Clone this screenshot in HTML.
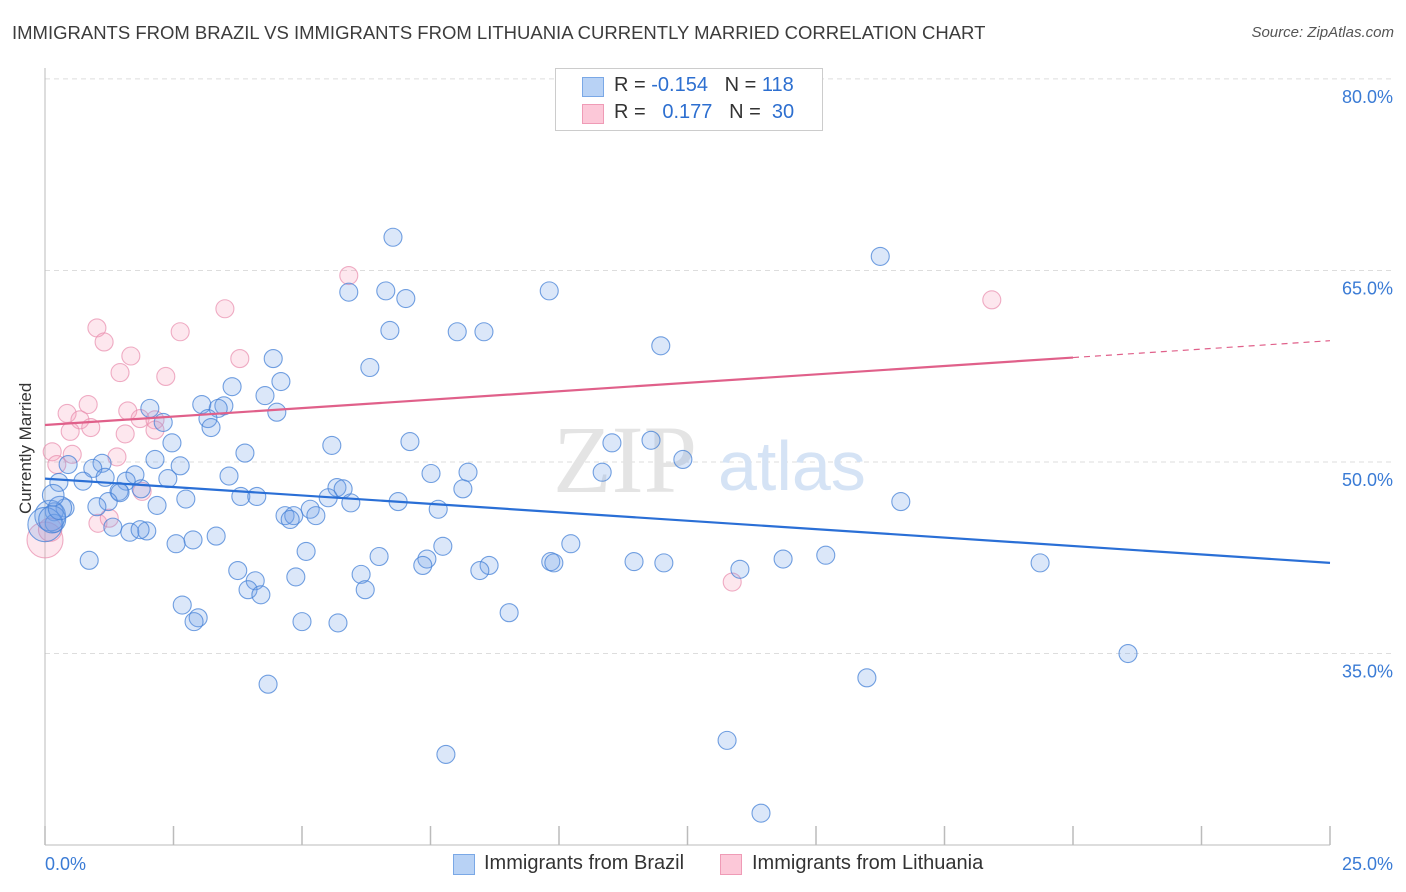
<!DOCTYPE html>
<html><head><meta charset="utf-8"><style>
body{margin:0;background:#fff;font-family:"Liberation Sans",sans-serif;}
#c{position:relative;width:1406px;height:892px;overflow:hidden;}
.t{position:absolute;white-space:nowrap;}
</style></head><body>
<div id="c">
<div class="t" style="left:12px;top:22px;font-size:18.5px;color:#3c3c3c;">IMMIGRANTS FROM BRAZIL VS IMMIGRANTS FROM LITHUANIA CURRENTLY MARRIED CORRELATION CHART</div>
<div class="t" style="right:12px;top:24px;font-size:15px;color:#555;font-style:italic;">Source: ZipAtlas.com</div>
<div class="t" style="left:-34px;top:444px;font-size:17px;color:#333;transform:rotate(-90deg);width:120px;text-align:center;">Currently Married</div>
<svg id="s" width="1406" height="892" style="position:absolute;left:0;top:0"></svg>
<div class="t" style="left:555px;top:68px;width:266px;height:61px;border:1px solid #ccc;background:#fff;font-size:20px;color:#333;">
 <div style="position:absolute;left:26px;top:8px;width:20px;height:18px;background:#b8d2f5;border:1px solid #7aa8e6;"></div>
 <div class="t" style="left:58px;top:5px;">R = <span style="color:#2d6fd0">-0.154</span>&nbsp;&nbsp;&nbsp;N = <span style="color:#2d6fd0">118</span></div>
 <div style="position:absolute;left:26px;top:35px;width:20px;height:18px;background:#fcc8d8;border:1px solid #ef9bb6;"></div>
 <div class="t" style="left:58px;top:32px;">R = &nbsp;&nbsp;<span style="color:#2d6fd0">0.177</span>&nbsp;&nbsp;&nbsp;N = &nbsp;<span style="color:#2d6fd0">30</span></div>
</div>
<div style="position:absolute;left:453px;top:854px;width:20px;height:19px;background:#b8d2f5;border:1px solid #7aa8e6;"></div>
<div class="t" style="left:484px;top:852px;font-size:20px;color:#333;">Immigrants from Brazil</div>
<div style="position:absolute;left:720px;top:854px;width:20px;height:19px;background:#fcc8d8;border:1px solid #ef9bb6;"></div>
<div class="t" style="left:752px;top:852px;font-size:20px;color:#333;">Immigrants from Lithuania</div>
</div>
<script>
const brazilX=[6.77,16.25,5.91,6.63,7.02,9.81,6.71,8.02,8.54,11.98,4.44,6.32,4.59,3.64,4.28,3.05,3.48,3.37,2.04,4.51,3.17,2.30,3.23,7.10,5.58,2.47,11.03,11.79,3.89,2.14,12.41,1.11,2.63,0.45,0.93,7.51,8.23,10.84,3.58,1.75,1.17,2.39,0.74,1.58,0.27,1.87,1.44,8.13,5.68,5.80,1.46,3.81,4.12,2.74,5.51,1.23,6.87,16.65,5.95,2.18,1.01,0.39,7.65,0.18,5.16,4.67,4.84,5.27,4.77,0.18,1.32,1.65,1.98,1.85,3.33,2.88,2.55,10.23,7.74,5.08,6.50,7.43,7.35,9.84,9.90,11.46,12.04,14.36,15.19,19.36,0.86,8.64,8.46,13.52,3.75,6.15,4.88,4.09,3.95,4.20,6.23,2.67,2.98,2.90,9.03,5.00,5.70,21.07,15.99,4.34,13.27,7.80,13.93,0.10,0.0,0.14,0.29,0.16];
const brazilY=[67.6,66.1,63.3,63.4,62.8,63.4,60.3,60.2,60.2,59.1,58.1,57.4,56.3,55.9,55.2,54.5,54.4,54.2,54.2,53.9,53.4,53.1,52.7,51.6,51.3,51.5,51.5,51.7,50.7,50.2,50.2,49.9,49.7,49.8,49.5,49.1,49.2,49.2,48.9,49.0,48.8,48.7,48.5,48.5,48.4,47.9,47.7,47.9,48.0,47.9,47.6,47.3,47.3,47.1,47.2,46.9,46.9,46.9,46.8,46.6,46.5,46.4,46.3,46.1,46.3,45.8,45.8,45.8,45.5,45.2,44.9,44.5,44.6,44.7,44.2,43.9,43.6,43.6,43.4,43.0,42.6,42.4,41.9,42.2,42.1,42.2,42.1,42.4,42.7,42.1,42.3,41.9,41.5,41.6,41.5,41.2,41.0,40.7,40.0,39.6,40.0,38.8,37.8,37.5,38.2,37.5,37.4,35.0,33.1,32.6,28.2,27.1,22.5,45.8,45.1,45.5,46.4,47.4];
const brazilSize=[]; for(let i=0;i<brazilX.length;i++)brazilSize.push(1);
brazilSize[113]=1.7;brazilSize[114]=1.9;brazilSize[115]=1.5;brazilSize[116]=1.3;brazilSize[117]=1.2;
const lithX=[5.91,3.50,18.42,1.01,1.15,2.63,3.79,1.67,1.46,2.35,0.84,0.43,1.61,0.68,0.89,1.85,2.14,1.56,2.14,0.49,1.40,0.14,0.53,0.23,1.89,1.03,1.25,13.37,0.0,0.1];
const lithY=[64.6,62.0,62.7,60.5,59.4,60.2,58.1,58.3,57.0,56.7,54.5,53.8,54.0,53.3,52.7,53.4,53.3,52.2,52.5,52.4,50.4,50.8,50.6,49.8,47.7,45.2,45.6,40.6,43.9,44.7];
const lithSize=[1,1,1,1,1,1,1,1,1,1,1,1,1,1,1,1,1,1,1,1,1,1,1,1,1,1,1,1,2.0,1.3];
const yTicks=[80,65,50,35];
const yTickLabels=["80.0%","65.0%","50.0%","35.0%"];
const xTicks=[0,2.5,5,7.5,10,12.5,15,17.5,20,22.5,25];
const xTickLabels=["0.0%","25.0%"];
const brazilTrend=[48.7,42.1];
const lithTrend=[52.9,59.5];
const lithSolidEnd=20;

const NS="http://www.w3.org/2000/svg";
const svg=document.getElementById('s');
const X=v=>45+v/25*1285;
const Y=v=>462-(v-50)*12.77;
function mk(tag,attrs){const e=document.createElementNS(NS,tag);for(const k in attrs)e.setAttribute(k,attrs[k]);svg.appendChild(e);return e;}

yTicks.forEach((t,i)=>{
 const l=mk('line',{x1:45,x2:1394,y1:Y(t),y2:Y(t),stroke:'#ddd','stroke-dasharray':'5,4','stroke-width':1});
 
 
 const tx=mk('text',{x:1393,y:Y(t)+24,'text-anchor':'end','font-size':18,fill:'#3a7bd5','font-family':'Liberation Sans, sans-serif'});
 tx.textContent=yTickLabels[i];
 
 
});
const ax=mk('line',{x1:45,x2:45,y1:68,y2:845,stroke:'#bbb','stroke-width':1});


const bx=mk('line',{x1:45,x2:1330,y1:845,y2:845,stroke:'#bbb','stroke-width':1});


xTicks.forEach(t=>{
 const l=mk('line',{x1:X(t),x2:X(t),y1:826,y2:845,stroke:'#bbb','stroke-width':1.5});
 
 
});
const xl0=mk('text',{x:45,y:870,'font-size':18,fill:'#3a7bd5','font-family':'Liberation Sans, sans-serif'});
xl0.textContent=xTickLabels[0];


const xl1=mk('text',{x:1393,y:870,'text-anchor':'end','font-size':18,fill:'#3a7bd5','font-family':'Liberation Sans, sans-serif'});
xl1.textContent=xTickLabels[1];



const w1=mk('text',{x:553,y:492,'font-size':96,fill:'#e4e4e4','font-family':'Liberation Serif, serif'});
w1.textContent='ZIP';


const w2=mk('text',{x:718,y:490,'font-size':70,fill:'#d5e3f5','font-family':'Liberation Sans, sans-serif'});
w2.textContent='atlas';



lithX.forEach((x,i)=>{
 const c=mk('circle',{cx:X(x),cy:Y(lithY[i]),r:9*lithSize[i],fill:'rgba(246,160,188,0.25)',stroke:'rgba(232,140,172,0.7)','stroke-width':1.1});
 
 
});
brazilX.forEach((x,i)=>{
 const c=mk('circle',{cx:X(x),cy:Y(brazilY[i]),r:9*brazilSize[i],fill:'rgba(110,160,230,0.25)',stroke:'rgba(70,130,215,0.75)','stroke-width':1.1});
 
 
});
const bl=mk('line',{x1:X(0),y1:Y(brazilTrend[0]),x2:X(25),y2:Y(brazilTrend[1]),stroke:'#2a6fd6','stroke-width':2.2});


const ly=v=>lithTrend[0]+(lithTrend[1]-lithTrend[0])*v/25;
const pl=mk('line',{x1:X(0),y1:Y(ly(0)),x2:X(lithSolidEnd),y2:Y(ly(lithSolidEnd)),stroke:'#e0608a','stroke-width':2.2});


const pd=mk('line',{x1:X(lithSolidEnd),y1:Y(ly(lithSolidEnd)),x2:X(25),y2:Y(ly(25)),stroke:'#e0608a','stroke-width':1.2,'stroke-dasharray':'6,5'});


</script>
</body></html>
